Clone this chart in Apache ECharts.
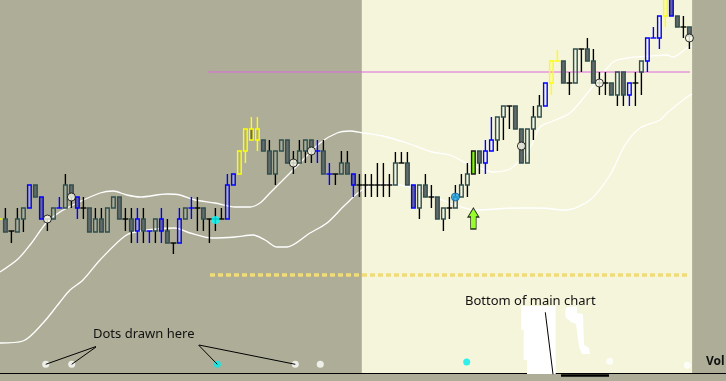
<!DOCTYPE html>
<html><head><meta charset="utf-8">
<script src="https://cdn.jsdelivr.net/npm/echarts@6/dist/echarts.min.js"></script>
<style>html,body{margin:0;padding:0;background:#aeae98;}#c{width:726px;height:381px;}</style>
</head><body><div id="c"></div>
<script>
// ---- data (price levels measured downward, index = bar number) ----
const firstBar = -1;
const kinds = ['YX',
 'F','X','H','H','BH','F','BF','X','H','BX',
 'H','F','BF','X','F','H','F','H','H','F',
 'X','F','BH','F','BX','H','BF','F','X','BH',
 'H','BX','X','F','X','X','X','BH','BH','YH',
 'YH','YF','YH','F','F','H','H','F','X','H',
 'H','F','BX','F','BX','X','H','F','BF','X',
 'X','X','X','X','X','H','X','F','BF','H',
 'F','X','F','H','X','H','H','H','G','F',
 'BH','BH','H','H','X','F','F','H','H','H',
 'BH','YH','YX','F','X','H','X','F','F','X',
 'X','F','H','F','BH','X','H','BH','BX','BH',
 'YH','BF','F','X','F'];
const highs = [219,
 208,231,208,208,185,185,197,219,208,197,
 174,185,197,197,208,208,208,208,197,197,
 208,208,208,208,231,219,208,219,243,208,
 208,197,197,208,219,208,208,174,174,151,
 129,117,117,140,140,151,140,140,151,140,
 140,140,140,140,163,174,151,151,174,174,
 174,174,163,163,174,152,152,152,185,185,
 174,185,197,208,197,185,174,163,151,151,
 140,117,117,106,106,106,129,129,106,95,
 83,61,50,61,72,49,49,38,49,72,
 72,83,72,72,83,72,61,38,27,16,
 -5,-5,16,16,27];
const bodyTop = [219,
 219,231,219,208,185,185,197,219,208,208,
 185,185,197,208,208,219,219,208,197,197,
 219,219,219,219,231,219,219,231,243,219,
 208,208,208,208,219,219,219,185,174,151,
 129,129,129,140,151,151,140,140,163,151,
 140,140,151,151,174,174,163,163,174,185,
 185,185,185,185,185,163,163,163,185,185,
 185,197,197,208,208,197,185,174,151,151,
 151,140,117,106,106,106,129,129,117,106,
 83,61,61,61,83,49,49,49,61,83,
 83,83,72,72,83,83,61,38,38,16,
 -5,-5,16,27,27];
const bodyBottom = [219,
 232,231,232,219,208,197,219,219,219,208,
 208,197,208,208,232,232,232,232,208,219,
 219,231,231,231,231,231,231,243,243,243,
 219,208,208,219,219,219,219,219,185,174,
 151,140,140,151,174,174,151,163,163,163,
 151,151,151,174,174,174,174,174,185,185,
 185,185,185,185,185,185,163,185,208,208,
 197,197,219,219,208,208,197,185,174,163,
 163,151,140,117,106,129,163,163,129,117,
 106,83,61,83,83,83,49,61,83,83,
 83,95,95,95,95,83,72,61,38,38,
 16,16,27,27,36];
const lows = [219,
 232,243,232,232,208,197,219,231,219,208,
 208,208,219,219,232,232,232,232,208,219,
 231,243,243,243,243,243,243,243,254,243,
 219,219,231,231,243,231,219,219,185,174,
 163,140,151,151,174,185,151,163,174,163,
 163,163,163,174,185,185,174,174,197,197,
 197,197,197,197,197,185,163,185,208,219,
 197,208,219,231,219,208,197,197,174,174,
 174,151,151,140,129,129,163,163,140,117,
 106,95,61,83,95,83,72,61,83,95,
 95,95,106,106,106,106,95,72,38,49,
 27,16,27,38,49];

// signal circles drawn on bars
const circleBars   = [7, 11, 48, 51, 86, 99, 114];
const circleLevels = [219, 197, 163, 151, 146, 83, 38];
// coloured signal dots on bars
const signalBars   = [35, 75];
const signalLevels = [220, 197];
const signalKinds  = ['cyan', 'blue'];
// arrow
const arrowBars = [78];
const arrowLevels = [218.5];

// envelope lines
const upperAt = [-0.9,2.1,4.1,6.93,9.1,11.93,15.77,17.93,20.27,22.43,26.93,29.1,31.6,34.93,38.27,40.77,42.43,44.1,46.6,49.1,52.43,55.27,57.43,59.6,62.93,66.93,71.1,74.1,77.1,79.1,81.27,84.1,85.77,87.43,89.1,91.27,94.1,97.43,101.27,103.6,107.43,110.27,111.27,113.6,114.43];
const upperLv = [272,259,245,222,212,203,193,191,195,197,194,195,200,203,207,207,203,193,178,163,143,133,131,133,136,143,152,155,164,168,172,169,160,148,127,121,113,90,62,58,56,55,57,48,46];
const lowerAt = [-0.9,2.93,6.27,9.1,10.77,12.93,15.77,19.93,22.43,28.27,30.77,34.43,38.27,41.27,43.27,45.27,46.93,50.77,53.6,56.6,59.43,62.43,65.77,69.1,71.6,74.93,78.27,85.27,89.1,93.27,97.43,100.77,103.27,105.77,109.1,110.27,113.6,114.43];
const lowerLv = [343,341,323,302,290,280,260,236,231,228,233,238,237,235,240,247,247,233,223,205,190,184,185,190,197,205,210,208,208,210,200,175,145,128,120,113,97,94];

// horizontal levels
const resistanceLevel = 72, resistanceSpan = [33.8, 114.1];
const supportLevel = 275, supportSpan = [34.1, 113.8];
// session (cream) span
const sessionSpan = [59.4, 114.45];
const chartBottomLevel = 373.5;
const volSpan = [92.6, 100.6], volLevel = 375.5;

// lower pane dots
const dotAt    = [6.72, 11.05, 35.32, 48.32, 52.48, 76.88, 100.72, 113.65];
const dotLevel = [364.3, 364.3, 364.3, 364.3, 364.3, 362, 361.3, 365.3];
const dotKind  = ['w','w','c','w','w','c','w','w'];

// ---- styles ----
const GRAY = '#696969', SLATE = '#2f4f4f';
const palette = {
  H:{b:SLATE,f:null,w:'#000'}, F:{b:SLATE,f:GRAY,w:'#000'},
  BH:{b:'#0000ff',f:null,w:'#0000ff'}, BF:{b:'#0000ff',f:GRAY,w:'#0000ff'},
  YH:{b:'#ffff00',f:null,w:'#ffff00'}, YF:{b:'#ffff00',f:GRAY,w:'#ffff00'},
  G:{b:'#1a1a1a',f:'#7cfc00',w:'#000'},
  X:{cross:true,w:'#000'}, BX:{cross:true,w:'#0000ff'}, YX:{cross:true,w:'#ffff00'}
};
const LW = 1.4;

const candleData = kinds.map((k, j) => [firstBar + j, highs[j], bodyTop[j], bodyBottom[j], lows[j]]);

function renderCandle(params, api) {
  const i = api.value(0);
  const pH = api.coord([i, api.value(1)]);
  const pT = api.coord([i, api.value(2)]);
  const pB = api.coord([i, api.value(3)]);
  const pL = api.coord([i, api.value(4)]);
  const step = api.size([1, 0])[0];
  const s = palette[kinds[params.dataIndex]];
  const x = pT[0];
  const ch = [];
  if (s.cross) {
    if (pL[1] > pH[1]) ch.push({type:'line', shape:{x1:x,y1:pH[1],x2:x,y2:pL[1]}, style:{stroke:s.w,lineWidth:LW}});
    ch.push({type:'line', shape:{x1:x-step/2,y1:pT[1],x2:x+step/2,y2:pT[1]}, style:{stroke:s.w,lineWidth:LW}});
  } else {
    if (pT[1] > pH[1]) ch.push({type:'line', shape:{x1:x,y1:pH[1],x2:x,y2:pT[1]}, style:{stroke:s.w,lineWidth:LW}});
    if (pL[1] > pB[1]) ch.push({type:'line', shape:{x1:x,y1:pB[1],x2:x,y2:pL[1]}, style:{stroke:s.w,lineWidth:LW}});
    const bw = step * 0.6;
    ch.push({type:'rect', shape:{x:x-bw/2, y:pT[1], width:bw, height:pB[1]-pT[1]},
      style:{fill:s.f || 'none', stroke:s.b, lineWidth:LW}});
  }
  return {type:'group', children:ch};
}

const zip = (a, b) => a.map((v, k) => [v, b[k]]);

const chart = echarts.init(document.getElementById('c'), null, {width:726, height:381});
chart.setOption({
  animation:false,
  backgroundColor:'#aeae98',
  grid:{left:0,right:0,top:0,bottom:0},
  xAxis:{type:'value', min:-0.9, max:120.1, show:false},
  yAxis:{type:'value', inverse:true, min:0, max:381, show:false},
  series:[
    {type:'line', z:0, data:[], silent:true,
     markArea:{silent:true, itemStyle:{color:'#f5f5dc'},
       data:[[{xAxis:sessionSpan[0], yAxis:0},{xAxis:sessionSpan[1], yAxis:chartBottomLevel}]]},
     markLine:{silent:true, symbol:'none', label:{show:false},
       data:[{yAxis:chartBottomLevel, lineStyle:{color:'#000', width:1, type:'solid'}},
             [{coord:[volSpan[0], volLevel], lineStyle:{color:'#000', width:2.5, type:'solid'}},{coord:[volSpan[1], volLevel]}]]}},
    {type:'line', z:1, name:'upper', data:zip(upperAt, upperLv), smooth:0.3, showSymbol:false,
     lineStyle:{color:'#ffffff', width:1.3}},
    {type:'line', z:1, name:'lower', data:zip(lowerAt, lowerLv), smooth:0.3, showSymbol:false,
     lineStyle:{color:'#ffffff', width:1.3}},
    {type:'line', z:2, name:'resistance', data:[[resistanceSpan[0], resistanceLevel],[resistanceSpan[1], resistanceLevel]],
     showSymbol:false, lineStyle:{color:'#dd66dd', width:1}},
    {type:'line', z:2, name:'support', data:[[supportSpan[0], supportLevel],[supportSpan[1], supportLevel]],
     showSymbol:false, lineStyle:{color:'#f0dc78', width:3.5, type:[5,3]}},
    {type:'custom', z:5, name:'bars', renderItem:renderCandle, data:candleData,
     encode:{x:0, y:[1,2,3,4]}, clip:false},
    {type:'scatter', z:6, name:'circles', data:zip(circleBars, circleLevels), symbol:'circle', symbolSize:8,
     itemStyle:{color:'#fffff0', borderColor:'#000', borderWidth:1}},
    {type:'scatter', z:6, name:'signals', data:zip(signalBars, signalLevels).map((p,k)=>({value:p,
       itemStyle: signalKinds[k]==='cyan' ? {color:'#00ffff'} : {color:'#1ea8e6', borderColor:'#125a9a', borderWidth:1}})),
     symbol:'circle', symbolSize:8},
    {type:'scatter', z:6, name:'arrow', data:zip(arrowBars, arrowLevels),
     symbol:'path://M5,0 L10,9 L7.5,9 L7.5,21 L2.5,21 L2.5,9 L0,9 Z', symbolSize:[11,21],
     itemStyle:{color:'#80ff00', borderColor:'#000', borderWidth:1}},
    {type:'scatter', z:6, name:'dots', data:zip(dotAt, dotLevel).map((p,k)=>({value:p,
       itemStyle:{color: dotKind[k]==='c' ? '#00eeee' : '#ffffff'}})),
     symbol:'circle', symbolSize:7}
  ]
});

// annotations
const px = (i) => chart.convertToPixel({gridIndex:0}, [dotAt[i], dotLevel[i]]);
const d0 = px(0), d1 = px(1), d2 = px(2), d3 = px(3);
const ln = (x1,y1,x2,y2) => ({type:'line', shape:{x1,y1,x2,y2}, style:{stroke:'#000', lineWidth:1}, z:100});
chart.setOption({graphic:[
  {type:'polygon', z:90, shape:{points:[[521.3,306],[555.7,306],[555.7,374],[527,374],[527,360],[523.7,360],[523.7,330],[521.3,330]]}, style:{fill:'#ffffff'}},
  {type:'polygon', z:90, shape:{points:[[567,307],[577,306.5],[577,313],[583,314],[584,345],[589,348],[590,354],[582,354],[579,347],[576,324],[571,322],[566,318],[565,311]]}, style:{fill:'#ffffff'}},
  {type:'text', z:100, x:93, y:334.5, style:{text:'Dots drawn here', font:'13px "Noto Sans"', fill:'#111', verticalAlign:'middle'}},
  {type:'text', z:100, x:465, y:301, style:{text:'Bottom of main chart', font:'13px "Noto Sans"', fill:'#111', verticalAlign:'middle'}},
  {type:'text', z:100, x:706, y:361.5, style:{text:'Vol', font:'bold 12px "Noto Sans"', fill:'#111', verticalAlign:'middle'}},
  ln(96,346.5,d0[0],d0[1]), ln(96,347,d1[0],d1[1]),
  ln(198.5,345,d2[0],d2[1]), ln(199,345,d3[0],d3[1]),
  ln(545.3,312.3,553,374.3)
]});
</script>
</body></html>
